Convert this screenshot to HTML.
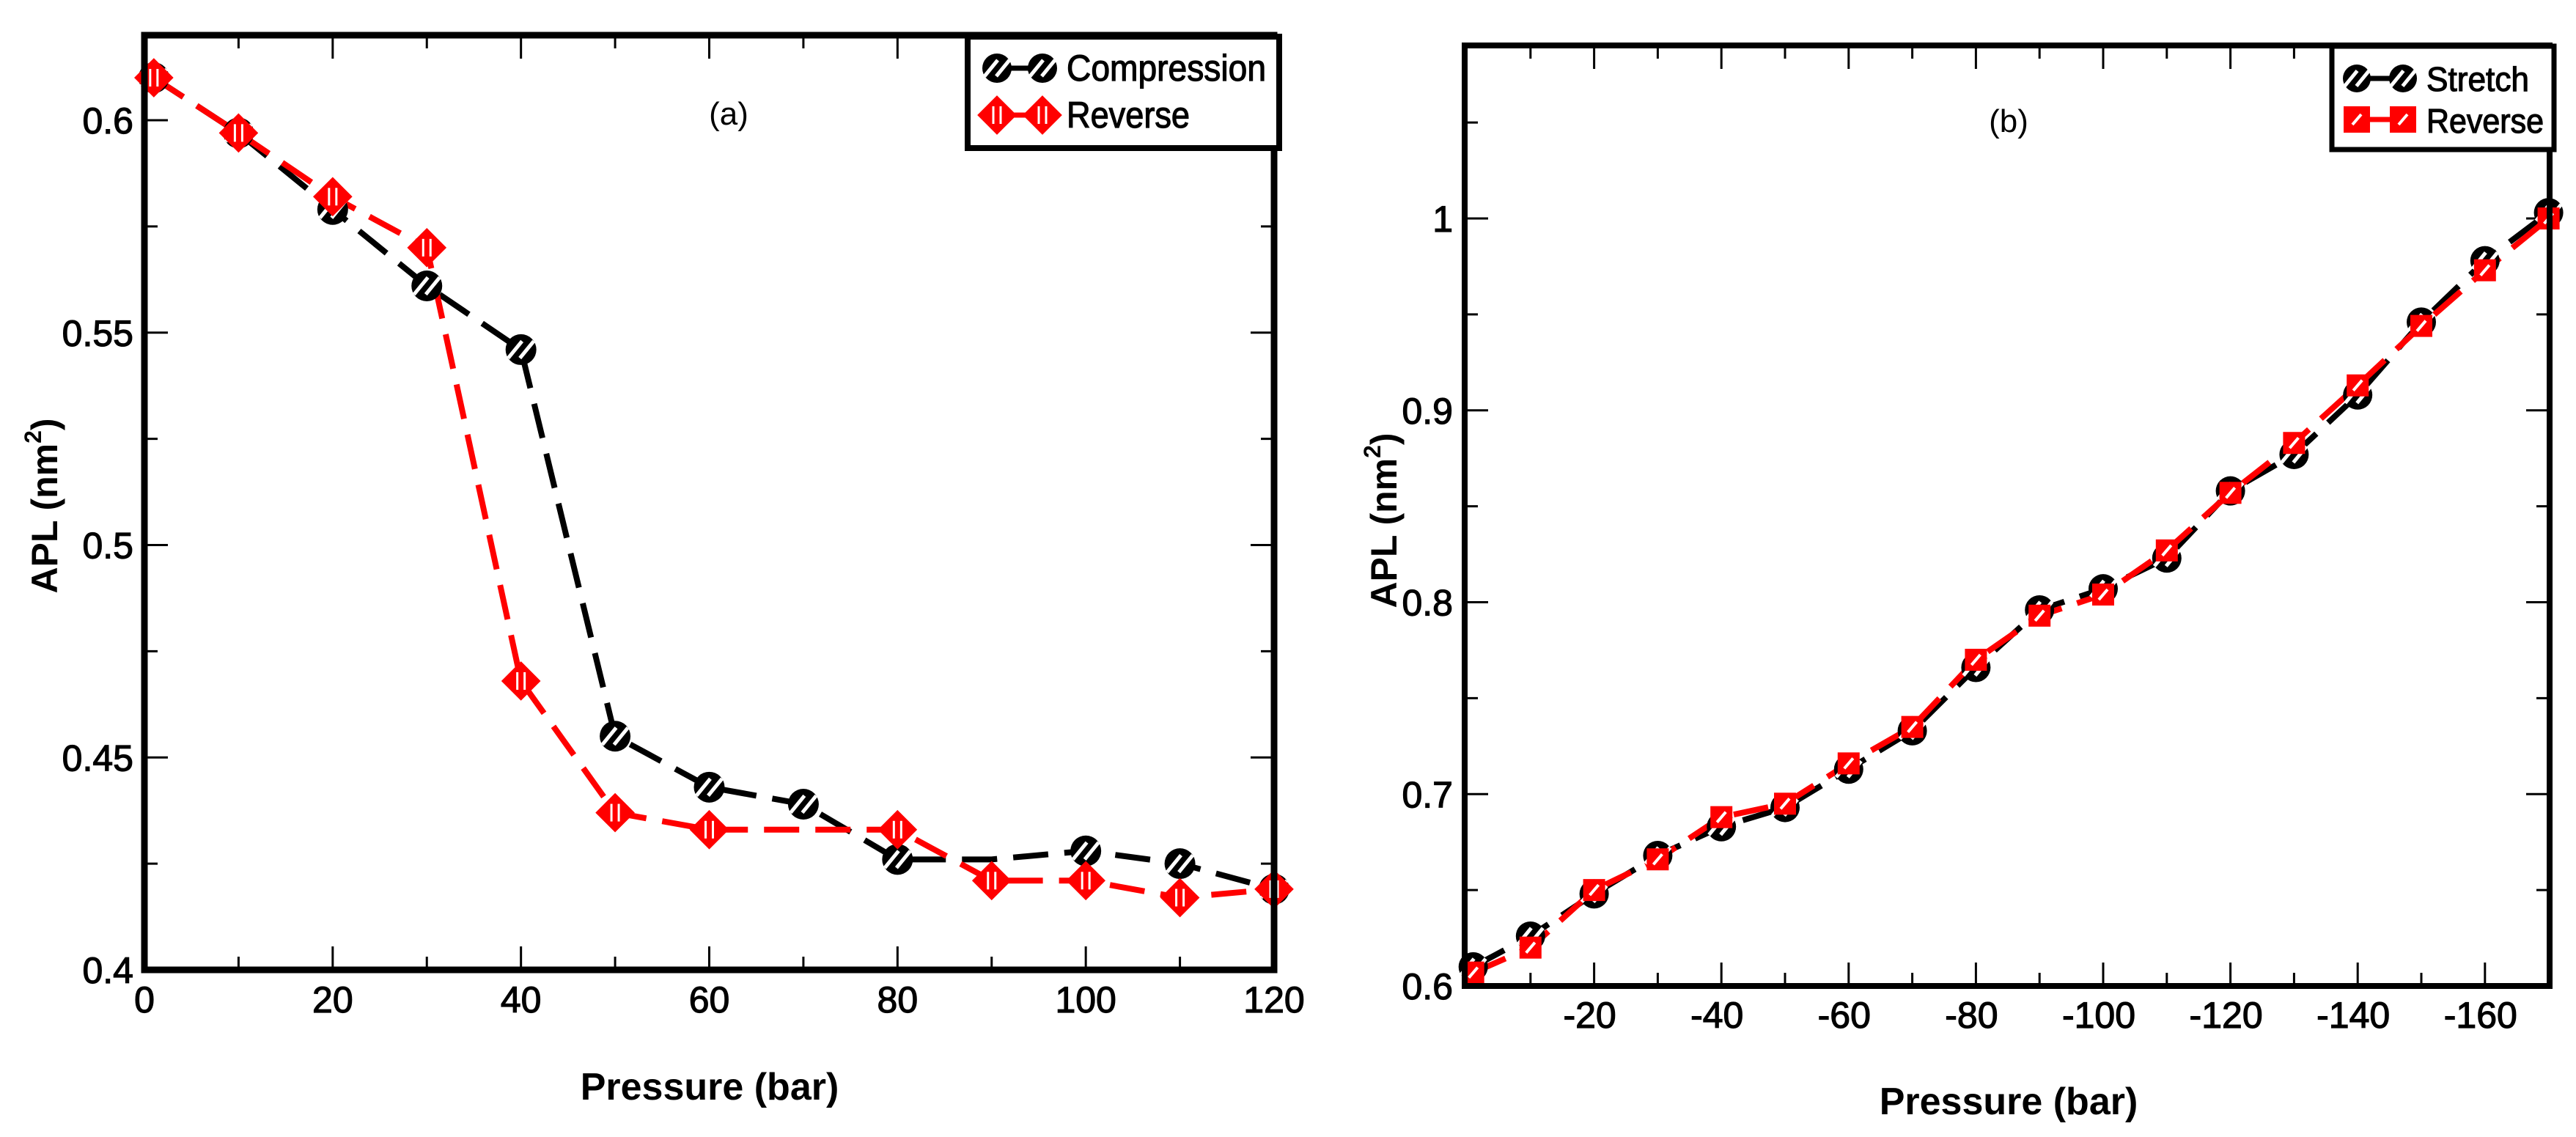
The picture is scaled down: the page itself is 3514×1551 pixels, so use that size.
<!DOCTYPE html>
<html><head><meta charset="utf-8"><style>
html,body{margin:0;padding:0;background:#fff;}
svg{display:block;}
text{font-family:"Liberation Sans",sans-serif;}
.tl{stroke:#000;stroke-width:1.2;}
</style></head><body>
<svg id="fig" width="3514" height="1551" viewBox="0 0 3514 1551" xmlns="http://www.w3.org/2000/svg"></svg>
<script>
// ---- Panel (a) data ----
const aCompX = [1,10,20,30,40,50,60,70,80,100,110,120];
const aCompY = [0.61,0.597,0.579,0.561,0.546,0.455,0.443,0.439,0.426,0.428,0.425,0.419];
const aLineX = [1,10,20,30,40,50,60,70,80,90,100,110,120];
const aLineCompY = [0.61,0.597,0.579,0.561,0.546,0.455,0.443,0.439,0.426,0.426,0.428,0.425,0.419];
const aRevX = [1,10,20,30,40,50,60,80,90,100,110,120];
const aRevY = [0.61,0.597,0.582,0.57,0.468,0.437,0.433,0.433,0.421,0.421,0.417,0.419];
const aXTicks = [0,20,40,60,80,100,120];
const aYTicks = [0.4,0.45,0.5,0.55,0.6];
const aYTickLabels = ["0.4","0.45","0.5","0.55","0.6"];
// ---- Panel (b) data ----
const bX = [1,10,20,30,40,50,60,70,80,90,100,110,120,130,140,150,160,170];
const bStretchY = [0.61,0.626,0.648,0.668,0.683,0.693,0.713,0.733,0.766,0.796,0.807,0.823,0.858,0.877,0.908,0.946,0.978,1.003];
const bRevY = [0.607,0.62,0.65,0.666,0.688,0.695,0.716,0.735,0.77,0.793,0.804,0.827,0.857,0.883,0.913,0.944,0.973,1.0];
const bXTicks = [20,40,60,80,100,120,140,160];
const bXTickLabels = ["-20","-40","-60","-80","-100","-120","-140","-160"];
const bYTicks = [0.6,0.7,0.8,0.9,1.0];
const bYTickLabels = ["0.6","0.7","0.8","0.9","1"];

const NS="http://www.w3.org/2000/svg";
const svg=document.getElementById('fig');
function mk(tag,attrs,parent){const e=document.createElementNS(NS,tag);for(const k in attrs)e.setAttribute(k,attrs[k]);(parent||svg).appendChild(e);return e;}

const ax=v=>197+(v-0)*(1738-197)/120;
const ay=v=>1323-(v-0.4)*(1323-164)/0.2;
const bx=v=>2001+v*8.68;
const by=v=>1345-(v-0.6)*2617.5;

function hatchCircle(g,cx,cy,r){
  mk('circle',{cx:cx,cy:cy,r:r,fill:'#000'},g);
  for(const o of [-8,8]){
    mk('line',{x1:cx+o-r*0.45,y1:cy+r*0.55,x2:cx+o+r*0.45,y2:cy-r*0.55,stroke:'#fff','stroke-width':5},g);
  }
}
function diamond(g,cx,cy,r){
  mk('polygon',{points:`${cx},${cy-r} ${cx+r},${cy} ${cx},${cy+r} ${cx-r},${cy}`,fill:'#f00',stroke:'#f00','stroke-width':4},g);
  mk('line',{x1:cx-5,y1:cy-12,x2:cx-5,y2:cy+12,stroke:'#fff','stroke-width':3},g);
  mk('line',{x1:cx+5,y1:cy-12,x2:cx+5,y2:cy+12,stroke:'#fff','stroke-width':3},g);
}
function square(g,cx,cy,h){
  mk('rect',{x:cx-h,y:cy-h,width:2*h,height:2*h,fill:'#f00'},g);
  mk('line',{x1:cx-6,y1:cy+7,x2:cx+6,y2:cy-7,stroke:'#fff','stroke-width':4},g);
}
function poly(xs,ys,fx,fy,color,name){
  const p=mk('polyline',{points:xs.map((x,i)=>fx(x)+','+fy(ys[i])).join(' '),fill:'none',stroke:color,'stroke-width':8,'stroke-dasharray':'48 22'});
  
  
}

// ===== Panel (a) =====
const ga=mk('g',{});


for(let v=0;v<=120;v+=10){
  const L=(v%20===0)?32:18;
  mk('line',{x1:ax(v),y1:1323,x2:ax(v),y2:1323-L,stroke:'#000','stroke-width':3},ga);
  mk('line',{x1:ax(v),y1:48,x2:ax(v),y2:48+L,stroke:'#000','stroke-width':3},ga);
}
for(let i=0;i<=8;i++){
  const v=0.4+i*0.025;const L=(i%2===0)?32:18;
  mk('line',{x1:197,y1:ay(v),x2:197+L,y2:ay(v),stroke:'#000','stroke-width':3},ga);
  mk('line',{x1:1738,y1:ay(v),x2:1738-L,y2:ay(v),stroke:'#000','stroke-width':3},ga);
}
aXTicks.forEach(v=>{const t=mk('text',{x:ax(v),y:1381,'font-size':50,'text-anchor':'middle','class':'tl'},ga);t.textContent=String(v);
  });
aYTicks.forEach((v,i)=>{const t=mk('text',{x:182,y:ay(v)+18,'font-size':50,'text-anchor':'end','class':'tl'},ga);t.textContent=aYTickLabels[i];
  });
poly(aLineX,aLineCompY,ax,ay,'#000','compression-line');
poly(aRevX,aRevY,ax,ay,'#f00','reverse-line-a');
aCompX.forEach((x,i)=>{const g=mk('g',{});hatchCircle(g,ax(x),ay(aCompY[i]),21);});
aRevX.forEach((x,i)=>{const g=mk('g',{});diamond(g,ax(x),ay(aRevY[i]),24);});
mk('rect',{x:197,y:48,width:1541,height:1275,fill:'none',stroke:'#000','stroke-width':9});
const la=mk('g',{});
mk('rect',{x:1320,y:50,width:425,height:152,fill:'#fff',stroke:'#000','stroke-width':8},la);
mk('line',{x1:1360,y1:93,x2:1422,y2:93,stroke:'#000','stroke-width':7},la);
hatchCircle(la,1360,93,20);hatchCircle(la,1422,93,20);
mk('line',{x1:1360,y1:157,x2:1422,y2:157,stroke:'#f00','stroke-width':7},la);
diamond(la,1360,157,24);diamond(la,1422,157,24);
let t=mk('text',{x:1455,y:110,'font-size':50,textLength:272,lengthAdjust:'spacingAndGlyphs','class':'tl'},la);t.textContent='Compression';
t=mk('text',{x:1455,y:174,'font-size':50,textLength:168,lengthAdjust:'spacingAndGlyphs','class':'tl'},la);t.textContent='Reverse';
t=mk('text',{x:994,y:170,'font-size':44,'text-anchor':'middle'});t.textContent='(a)';

t=mk('text',{x:968,y:1500,'font-size':52,'font-weight':'bold','text-anchor':'middle'});t.textContent='Pressure (bar)';

t=mk('text',{x:0,y:0,'font-size':50,'font-weight':'bold','text-anchor':'middle',transform:'translate(78,690) rotate(-90)'});
t.innerHTML='APL (nm<tspan dy="-22" font-size="32">2</tspan><tspan dy="22">)</tspan>';


// ===== Panel (b) =====
const gb=mk('g',{});


for(let v=10;v<=170;v+=10){
  const L=(v%20===0)?32:18;
  mk('line',{x1:bx(v),y1:1345,x2:bx(v),y2:1345-L,stroke:'#000','stroke-width':3},gb);
  mk('line',{x1:bx(v),y1:62,x2:bx(v),y2:62+L,stroke:'#000','stroke-width':3},gb);
}
for(let i=0;i<=9;i++){
  const v=0.6+i*0.05;const L=(i%2===0)?32:18;
  mk('line',{x1:1998,y1:by(v),x2:1998+L,y2:by(v),stroke:'#000','stroke-width':3},gb);
  mk('line',{x1:3478,y1:by(v),x2:3478-L,y2:by(v),stroke:'#000','stroke-width':3},gb);
}
bXTicks.forEach((v,i)=>{const t=mk('text',{x:bx(v)-6,y:1402,'font-size':50,'text-anchor':'middle','class':'tl'},gb);t.textContent=bXTickLabels[i];
  });
bYTicks.forEach((v,i)=>{const t=mk('text',{x:1982,y:by(v)+18,'font-size':50,'text-anchor':'end','class':'tl'},gb);t.textContent=bYTickLabels[i];
  });
poly(bX,bStretchY,bx,by,'#000','stretch-line');
poly(bX,bRevY,bx,by,'#f00','reverse-line-b');
bX.forEach((x,i)=>{const g=mk('g',{});hatchCircle(g,bx(x),by(bStretchY[i]),20);});
bX.forEach((x,i)=>{const g=mk('g',{});square(g,bx(x),by(bRevY[i]),15);});
mk('rect',{x:1998,y:62,width:1480,height:1283,fill:'none',stroke:'#000','stroke-width':8});
const lb=mk('g',{});
mk('rect',{x:3181,y:63,width:303,height:141,fill:'#fff',stroke:'#000','stroke-width':7},lb);
mk('line',{x1:3215,y1:107,x2:3278,y2:107,stroke:'#000','stroke-width':7},lb);
hatchCircle(lb,3215,107,19);hatchCircle(lb,3278,107,19);
mk('line',{x1:3215,y1:163,x2:3278,y2:163,stroke:'#f00','stroke-width':7},lb);
square(lb,3215,163,18);square(lb,3278,163,18);
t=mk('text',{x:3310,y:124,'font-size':46,textLength:140,lengthAdjust:'spacingAndGlyphs','class':'tl'},lb);t.textContent='Stretch';
t=mk('text',{x:3310,y:181,'font-size':46,textLength:160,lengthAdjust:'spacingAndGlyphs','class':'tl'},lb);t.textContent='Reverse';
t=mk('text',{x:2740,y:180,'font-size':44,'text-anchor':'middle'});t.textContent='(b)';

t=mk('text',{x:2740,y:1520,'font-size':52,'font-weight':'bold','text-anchor':'middle'});t.textContent='Pressure (bar)';

t=mk('text',{x:0,y:0,'font-size':50,'font-weight':'bold','text-anchor':'middle',transform:'translate(1905,710) rotate(-90)'});
t.innerHTML='APL (nm<tspan dy="-22" font-size="32">2</tspan><tspan dy="22">)</tspan>';

</script>
</body></html>
